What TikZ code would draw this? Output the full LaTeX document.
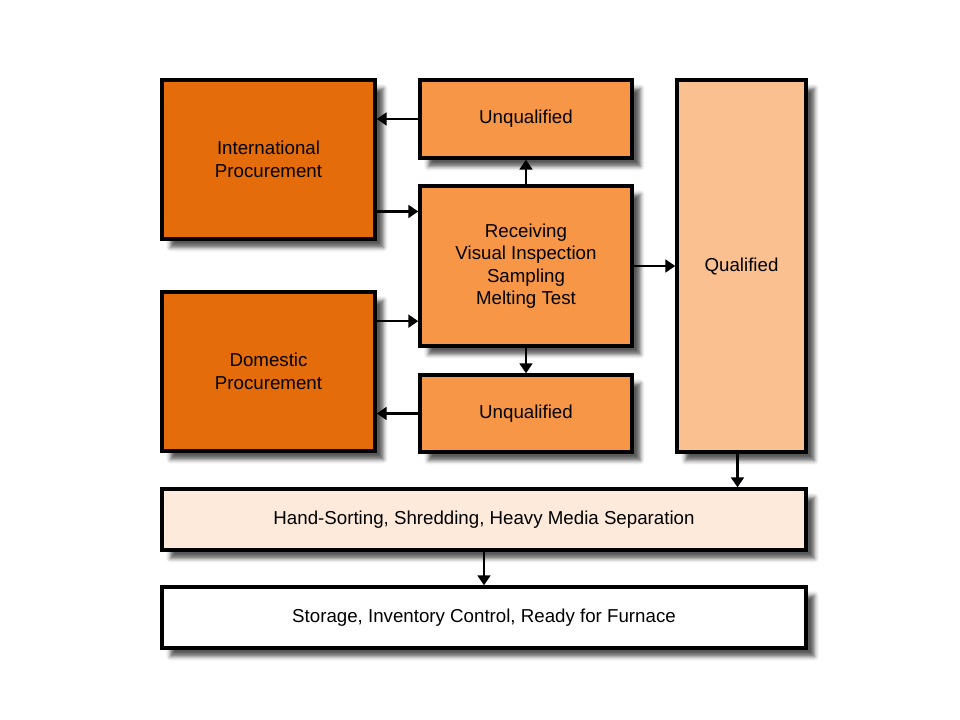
\documentclass[tikz,border=0pt]{standalone}
\usepackage{fontspec}
\setmainfont{Liberation Sans}
\usetikzlibrary{arrows.meta,calc,shadows.blur}

\definecolor{procorange}{HTML}{E46C0A}
\definecolor{checkorange}{HTML}{F79646}
\definecolor{passorange}{HTML}{FAC090}
\definecolor{sortorange}{HTML}{FDEADA}

\tikzset{
  stage/.style={draw=black, line width=2.4pt, align=center, inner sep=0pt,
    font=\fontsize{13.3}{16}\selectfont,
    blur shadow={shadow xshift=6pt, shadow yshift=-6pt, shadow blur radius=3pt, shadow opacity=65}},
  flow/.style={line width=1.9pt, -{Triangle[length=7pt,width=9pt]}},
}

\begin{document}
\begin{tikzpicture}[x=0.025cm, y=-0.025cm]
    \useasboundingbox (0,0) rectangle (960,720);

    % Procurement
    \node[stage, fill=procorange, minimum width=5.325cm, minimum height=3.975cm] (intl) at (268.5,159.5) {International\\Procurement};
    \node[stage, fill=procorange, minimum width=5.325cm, minimum height=3.975cm] (dom) at (268.5,371.5) {Domestic\\Procurement};

    % Inspection
    \node[stage, fill=checkorange, minimum width=5.3cm, minimum height=1.95cm] (unqtop) at (526,119) {Unqualified};
    \node[stage, fill=checkorange, minimum width=5.3cm, minimum height=4cm] (recv) at (526,266) {Receiving\\Visual Inspection\\Sampling\\Melting Test};
    \node[stage, fill=checkorange, minimum width=5.3cm, minimum height=1.925cm] (unqbot) at (526,413.5) {Unqualified};
    \node[stage, fill=passorange, minimum width=3.225cm, minimum height=9.3cm] (qual) at (741.5,266) {Qualified};

    % Processing
    \node[stage, fill=sortorange, minimum width=16.1cm, minimum height=1.525cm] (sort) at (484,519.5) {Hand-Sorting, Shredding, Heavy Media Separation};
    \node[stage, fill=white, minimum width=16.1cm, minimum height=1.525cm] (store) at (484,617.5) {Storage, Inventory Control, Ready for Furnace};

    % Connectors
    \coordinate (intlout) at ($(intl.south east)!0.18!(intl.north east)$);
    \coordinate (domout) at ($(dom.south east)!0.81!(dom.north east)$);
    \coordinate (qualout) at ($(qual.south)+(-4,0)$);
    \draw[flow] (unqtop.west) -- (unqtop.west -| intl.east);
    \draw[flow] (intlout) -- (intlout -| recv.west);
    \draw[flow] (domout) -- (domout -| recv.west);
    \draw[flow] (unqbot.west) -- (unqbot.west -| dom.east);
    \draw[flow] (recv.north) -- (unqtop.south);
    \draw[flow] (recv.south) -- (unqbot.north);
    \draw[flow] (recv.east) -- (recv.east -| qual.west);
    \draw[flow] (qualout) -- (qualout |- sort.north);
    \draw[flow] (sort.south) -- (store.north);

\end{tikzpicture}
\end{document}
